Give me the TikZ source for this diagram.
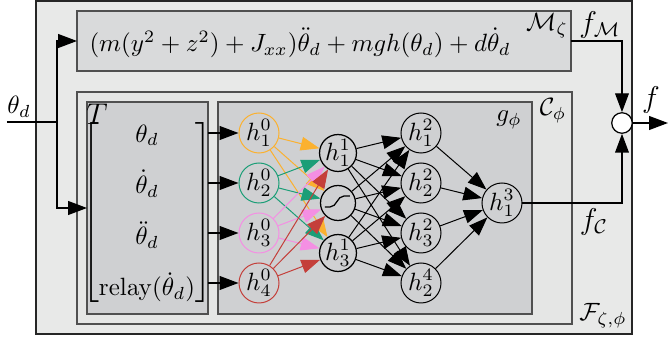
\documentclass[tikz,border=0pt]{standalone}
\usepackage{amsmath}
\usepackage{amssymb}
\usepackage{xcolor}
\usepackage{tikz}
\usetikzlibrary{arrows.meta}

\definecolor{fondo}{HTML}{E8E9E8}
\definecolor{fondoC}{HTML}{E5E6E5}
\definecolor{cajaM}{HTML}{D9DADB}
\definecolor{cajaT}{HTML}{CFD0D2}
\definecolor{borde}{HTML}{505050}
\definecolor{hone}{HTML}{FBB12F}
\definecolor{htwo}{HTML}{1B9E77}
\definecolor{hthree}{HTML}{F48FE3}
\definecolor{hfour}{HTML}{C43F3A}

\tikzset{
  outerbox/.style={fill=fondo, draw=black!85, line width=0.8pt},
  midbox/.style={fill=#1, draw=borde, line width=0.5pt},
  inbox/.style={circle, draw=#1, line width=0.4pt, minimum size=16pt, inner sep=0pt},
  hidbox/.style={circle, draw=black, line width=0.5pt, minimum size=14pt, inner sep=0pt},
  lbl/.style={inner sep=0pt},
  wire/.style={line width=0.5pt},
  thin wire/.style={line width=0.4pt}
}

\begin{document}
\begin{tikzpicture}[x=0.40pt, y=-0.40pt, >={Triangle[length=7.5pt,width=5.5pt]}]
\useasboundingbox (0,0) rectangle (669,339);

\filldraw[outerbox] (36,1) rectangle (632,334);
\filldraw[midbox=cajaM] (77,11) rectangle (571,71);
\filldraw[midbox=fondoC] (77,92) rectangle (572,324);
\filldraw[midbox=cajaT] (87,102) rectangle (208,314);
\filldraw[midbox=cajaT] (218,102) rectangle (532,314);

\node[lbl] (dyn) at (300,43) {$(m(y^2+z^2)+J_{xx})\ddot{\theta}_d+mgh(\theta_d)+d\dot{\theta}_d$};
\node[lbl] (lM) at (547,26) {$\mathcal{M}_\zeta$};
\node[lbl] (lC) at (553,111) {$\mathcal{C}_\phi$};
\node[lbl] (lg) at (509,120) {$g_\phi$};
\node[lbl] (lT) at (97,114) {\large $T$};
\node[lbl] (lF) at (603,316) {$\mathcal{F}_{\zeta,\phi}$};
\node[lbl] (lfM) at (600,25) {\large $f_{\mathcal{M}}$};
\node[lbl] (lfC) at (594,222) {\large $f_{\mathcal{C}}$};
\node[lbl] (lf) at (651,100) {\large $f$};
\node[lbl] (lin) at (19,107) {$\theta_d$};

\node[lbl] (vec) at (147,213) {$\begin{bmatrix}
  \theta_d \\[7.6pt]
  \dot{\theta}_d \\[7.6pt]
  \ddot{\theta}_d \\[7.6pt]
  \mathrm{relay}(\dot{\theta}_d)
\end{bmatrix}$};

%   red
\node[inbox=hone] (n0-1) at (259,133) {$h^0_1$};
\node[inbox=htwo] (n0-2) at (259,183) {$h^0_2$};
\node[inbox=hthree] (n0-3) at (259,233) {$h^0_3$};
\node[inbox=hfour] (n0-4) at (259,283) {$h^0_4$};

\node[hidbox] (n1-1) at (338,153) {$h^1_1$};
\node[hidbox] (n1-2) at (338,203) {};
\node[hidbox] (n1-3) at (338,253) {$h^1_3$};

\node[inbox=black] (n2-1) at (421,133) {$h^2_1$};
\node[inbox=black] (n2-2) at (421,183) {$h^2_2$};
\node[inbox=black] (n2-3) at (421,233) {$h^2_3$};
\node[inbox=black] (n2-4) at (421,283) {$h^4_2$};

\node[inbox=black] (n3-1) at (502,203) {$h^3_1$};

\node[circle, draw=black, fill=white, line width=0.5pt, minimum size=8.2pt, inner sep=0pt] (sum) at (622,123) {};

\draw[wire] ([shift={(-13,4)}]n1-2.center) -- ++(5,0)
  .. controls +(7,0) and +(-7,0) .. ++(14,-11) -- ++(6,0);

%   puntos
\coordinate (in) at (7,122);
\coordinate (split) at (57,122);
\coordinate (Min) at (77,41);
\coordinate (Mout) at (571,41);
\coordinate (Tin) at (87,208);
\coordinate (Tout) at (208,208);
\coordinate (out) at (668,123);

%   flechas
\draw[wire] (in) -- (split);
\draw[wire, ->] (split) |- (Min);
\draw[wire, ->] (split) |- (Tin);
\foreach \i in {1,...,4}
  \draw[wire, ->] (Tout |- n0-\i) -- (n0-\i);

\foreach \i/\c in {1/hone,2/htwo,3/hthree,4/hfour}
  \foreach \j in {1,2,3}
    \draw[thin wire, ->, \c] (n0-\i) -- (n1-\j);

\foreach \i in {1,2,3}
  \foreach \j in {1,...,4}
    \draw[thin wire, ->] (n1-\i) -- (n2-\j);

\foreach \j in {1,...,4}
  \draw[thin wire, ->] (n2-\j) -- (n3-1);

\draw[wire, ->] (Mout) -| (sum);
\draw[wire, ->] (n3-1) -| (sum);
\draw[wire, ->] (sum) -- (out);
\end{tikzpicture}
\end{document}
